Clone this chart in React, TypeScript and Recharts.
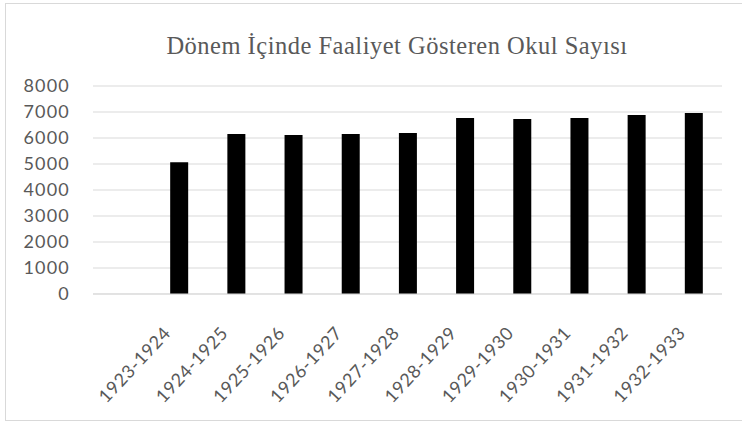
import { BarChart, Bar, XAxis, YAxis, CartesianGrid } from 'recharts';

// first category is empty in the original sheet
const periods = ['', '1923-1924', '1924-1925', '1925-1926', '1926-1927', '1927-1928', '1928-1929', '1929-1930', '1930-1931', '1931-1932', '1932-1933'];
const schools = [null, 5064, 6154, 6115, 6154, 6192, 6769, 6731, 6769, 6885, 6962];
const yTicks = [0, 1000, 2000, 3000, 4000, 5000, 6000, 7000, 8000];

const data = periods.map((p, i) => ({ period: p, schools: schools[i] }));

const axisFont = 'Lato, "Open Sans", sans-serif';

function PeriodTick({ x, y, payload }: any) {
    if (!payload.value) return null;
    return (
        <g transform={`translate(${x - 7},${y + 32})`}>
            <text
                x={0}
                y={0}
                textAnchor="end"
                transform="rotate(-47)"
                fill="#595959"
                fontSize={18}
                letterSpacing={0.6}
                fontFamily={axisFont}
            >
                {payload.value}
            </text>
        </g>
    );
}

export default function App() {
    return (
        <div style={{ position: 'absolute', left: 0, top: 0, width: 742, height: 422, background: '#fff' }}>
            <div
                style={{
                    position: 'absolute',
                    left: 5,
                    top: 3,
                    width: 740,
                    height: 418,
                    border: '1px solid #d9d9d9',
                    boxSizing: 'border-box',
                }}
            />
            <div
                style={{
                    position: 'absolute',
                    left: 0,
                    top: 32,
                    width: 794,
                    textAlign: 'center',
                    fontFamily: '"Liberation Serif", "Times New Roman", serif',
                    fontSize: 24.5,
                    letterSpacing: 0.5,
                    color: '#595959',
                    lineHeight: '28px',
                }}
            >
                Dönem İçinde Faaliyet Gösteren Okul Sayısı
            </div>
            <div style={{ position: 'absolute', left: 0, top: 0 }}>
                <BarChart width={742} height={422} data={data} margin={{ top: 86, right: 20, bottom: 8, left: 0 }} barSize={18}>
                    <CartesianGrid vertical={false} stroke="#d9d9d9" />
                    <XAxis
                        dataKey="period"
                        height={120}
                        interval={0}
                        tickLine={false}
                        axisLine={{ stroke: '#d9d9d9' }}
                        tick={<PeriodTick />}
                    />
                    <YAxis
                        width={93}
                        domain={[0, 8000]}
                        ticks={yTicks}
                        axisLine={false}
                        tickLine={false}
                        tickSize={0}
                        tickMargin={23}
                        tick={{ fill: '#595959', fontSize: 18, letterSpacing: 1.2, fontFamily: axisFont }}
                    />
                    <Bar dataKey="schools" fill="#000000" isAnimationActive={false} />
                </BarChart>
            </div>
        </div>
    );
}
